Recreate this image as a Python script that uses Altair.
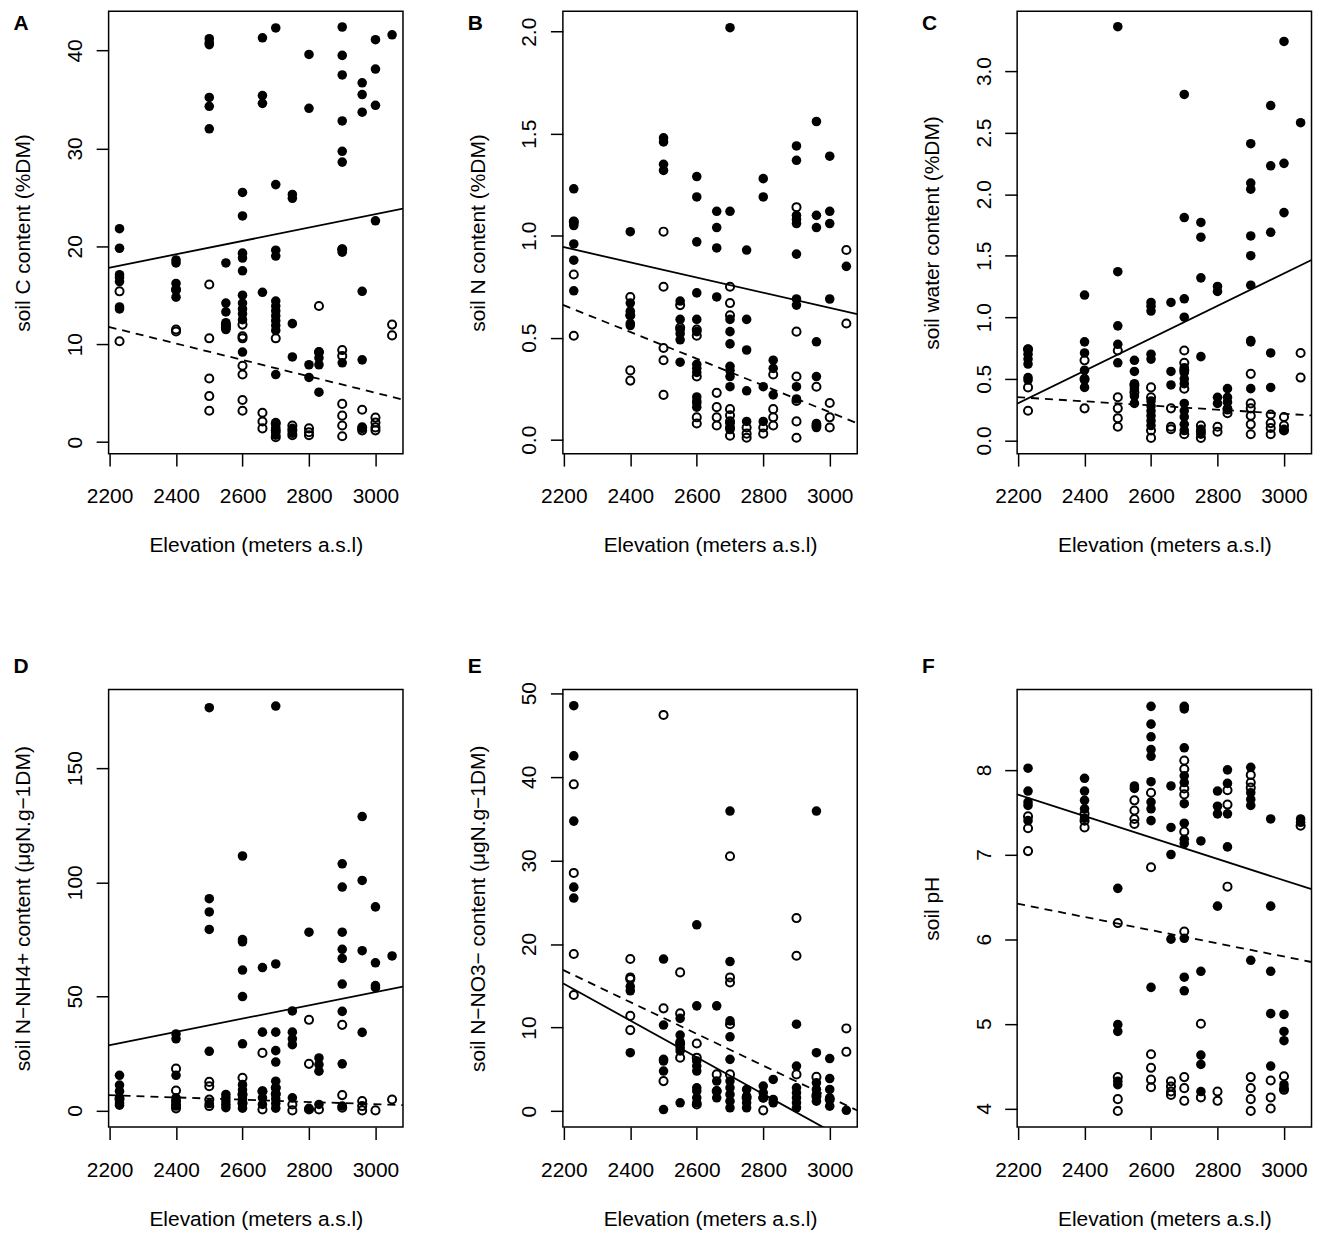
import altair as alt
import pandas as pd

FONT = "Liberation Sans"
W = 295.5
H_TOP = 444
H_BOT = 439.3

X_DOMAIN = [2197.2, 3082.8]
X_EDGES = [2197.2, 3082.8]
X_TICKS = [2200, 2400, 2600, 2800, 3000]
X_TITLE = "Elevation (meters a.s.l)"

# ---------------- Panel A : soil C content ----------------
A_filled = {
    2230: [21.8, 19.8, 17.1, 16.8, 16.4, 13.8, 13.6],
    2400: [18.6, 18.3, 16.2, 15.5, 14.8],
    2500: [41.2, 40.8, 40.6, 35.2, 34.3, 32.0],
    2550: [18.3, 14.2, 13.3, 12.2, 11.9, 11.5],
    2600: [25.5, 23.1, 19.3, 18.8, 17.5, 15.0, 14.2, 13.6, 13.1, 12.5, 9.2],
    2660: [41.3, 35.4, 34.6, 15.3],
    2700: [42.3, 26.3, 19.6, 19.0, 14.4, 13.9, 13.4, 12.9, 12.4, 11.9, 11.4, 6.9, 2.0, 1.5, 1.0, 0.7],
    2750: [25.3, 24.9, 12.1, 8.7, 1.4, 0.9],
    2800: [39.6, 34.1, 7.9, 6.6],
    2830: [9.2, 8.6, 7.9, 5.1],
    2900: [42.4, 39.5, 37.5, 32.8, 29.7, 28.6, 19.7, 19.4, 8.1],
    2960: [36.7, 35.5, 33.7, 15.4, 8.4, 1.4],
    3000: [41.1, 38.1, 34.4, 22.6],
    3050: [41.6],
}
A_open = {
    2230: [15.4, 10.3],
    2400: [15.6, 11.5, 11.3],
    2500: [16.1, 10.6, 6.5, 4.7, 3.2],
    2550: [12.0, 11.7],
    2600: [12.0, 10.8, 10.6, 7.8, 6.9, 4.3, 3.2],
    2660: [3.0, 2.1, 1.4],
    2700: [10.6, 1.9, 1.2, 0.5],
    2750: [1.7, 1.2, 0.7],
    2800: [1.4, 1.0, 0.7],
    2830: [13.9, 9.2],
    2900: [19.7, 9.4, 8.8, 3.9, 2.7, 1.7, 0.6],
    2960: [3.3, 1.5, 1.2],
    3000: [2.5, 2.0, 1.5, 1.2],
    3050: [12.0, 10.9],
}
A_solid = [17.8, 23.84]
A_dashed = [11.77, 4.34]

# ---------------- Panel B : soil N content ----------------
B_filled = {
    2230: [1.23, 1.07, 1.06, 1.05, 0.96, 0.88, 0.73],
    2400: [1.02, 0.67, 0.63, 0.61, 0.57, 0.56],
    2500: [1.48, 1.46, 1.35, 1.32],
    2550: [0.68, 0.59, 0.54, 0.52, 0.49, 0.38],
    2600: [1.29, 1.19, 0.97, 0.72, 0.59, 0.53, 0.37, 0.35, 0.33, 0.21, 0.19, 0.18, 0.16],
    2660: [1.12, 1.04, 0.94, 0.70],
    2700: [2.02, 1.12, 0.59, 0.53, 0.47, 0.36, 0.34, 0.31, 0.26, 0.08, 0.05],
    2750: [0.93, 0.59, 0.44, 0.24, 0.09],
    2800: [1.28, 1.19, 0.26, 0.09],
    2830: [0.39, 0.35, 0.22],
    2900: [1.44, 1.37, 1.10, 1.08, 1.06, 0.91, 0.69, 0.66, 0.26, 0.20],
    2960: [1.56, 1.10, 1.04, 0.48, 0.31, 0.08, 0.06],
    3000: [1.39, 1.12, 1.06, 0.69],
    3050: [0.85],
}
B_open = {
    2230: [1.07, 0.81, 0.51],
    2400: [0.70, 0.61, 0.34, 0.29],
    2500: [1.02, 0.75, 0.45, 0.39, 0.22],
    2550: [0.66, 0.55],
    2600: [0.54, 0.51, 0.31, 0.11, 0.08],
    2660: [0.23, 0.16, 0.11, 0.07],
    2700: [0.75, 0.67, 0.61, 0.15, 0.12, 0.09, 0.06, 0.02],
    2750: [0.06, 0.03, 0.01],
    2800: [0.06, 0.03],
    2830: [0.32, 0.15, 0.11, 0.07],
    2900: [1.14, 0.53, 0.31, 0.19, 0.09, 0.01],
    2960: [0.26, 0.07],
    3000: [0.18, 0.11, 0.06],
    3050: [0.93, 0.57],
}
B_solid = [0.945, 0.616]
B_dashed = [0.661, 0.081]

# ---------------- Panel C : soil water content ----------------
C_filled = {
    2230: [0.74, 0.70, 0.66, 0.62, 0.51, 0.49],
    2400: [1.18, 0.80, 0.71, 0.57, 0.49, 0.43],
    2500: [3.36, 1.37, 0.93, 0.78, 0.63],
    2550: [0.65, 0.56, 0.46, 0.42, 0.36, 0.30],
    2600: [1.12, 1.09, 1.05, 0.70, 0.66, 0.32, 0.28, 0.24, 0.20, 0.16, 0.12],
    2660: [1.12, 0.56, 0.45],
    2700: [2.81, 1.81, 1.15, 1.00, 0.59, 0.55, 0.50, 0.46, 0.30, 0.24, 0.19, 0.13, 0.08],
    2750: [1.77, 1.65, 1.32, 0.68, 0.09, 0.05],
    2800: [1.25, 1.21, 0.35, 0.30],
    2830: [0.42, 0.35, 0.31, 0.26],
    2900: [2.41, 2.09, 2.04, 1.66, 1.50, 1.26, 0.81, 0.80, 0.42],
    2960: [2.72, 2.23, 1.69, 0.71, 0.43],
    3000: [3.24, 2.25, 1.85, 0.09],
    3050: [2.58],
}
C_open = {
    2230: [0.74, 0.43, 0.24],
    2400: [0.65, 0.50, 0.26],
    2500: [0.73, 0.35, 0.26, 0.18, 0.11],
    2550: [0.45, 0.39],
    2600: [0.43, 0.35, 0.08, 0.02],
    2660: [0.26, 0.11, 0.09],
    2700: [0.73, 0.63, 0.57, 0.42, 0.05],
    2750: [0.12, 0.07, 0.02],
    2800: [0.11, 0.07],
    2830: [0.25, 0.22],
    2900: [0.54, 0.30, 0.26, 0.20, 0.13, 0.05],
    2960: [0.21, 0.14, 0.10, 0.05],
    3000: [0.19, 0.12, 0.08],
    3050: [0.71, 0.51],
}
C_solid = [0.297, 1.465]
C_dashed = [0.351, 0.202]

# ---------------- Panel D : soil N-NH4+ content ----------------
D_filled = {
    2230: [15.4, 11.1, 8.4, 5.5, 3.3, 2.3],
    2400: [33.5, 31.4, 15.4, 5.5, 1.9],
    2500: [176.5, 92.8, 87.0, 79.3, 25.9, 3.0],
    2550: [7.0, 5.5, 4.1, 2.6, 1.2],
    2600: [111.5, 74.9, 73.9, 61.5, 49.9, 29.2, 11.3, 9.0, 7.0, 5.0, 3.0, 1.0],
    2660: [62.6, 34.3, 8.4, 5.5, 2.6],
    2700: [177.2, 64.2, 34.3, 26.2, 21.2, 12.8, 9.9, 7.0, 5.0, 3.0, 1.0],
    2750: [43.6, 34.3, 31.4, 28.8, 5.5],
    2800: [78.1, 0.9],
    2830: [23.0, 20.1, 17.2, 2.6],
    2900: [108.1, 97.9, 78.1, 70.6, 66.6, 55.4, 43.4, 20.4, 1.9],
    2960: [128.8, 100.8, 70.0, 34.2],
    3000: [89.2, 64.7, 54.7, 53.8],
    3050: [67.7],
}
D_open = {
    2230: [5.0],
    2400: [18.3, 8.7, 4.1, 2.6, 0.9],
    2500: [12.5, 10.6, 4.8, 1.9],
    2600: [14.3, 7.0, 3.3],
    2660: [25.2, 8.4, 0.4],
    2700: [9.9, 7.3],
    2750: [2.6, 0.0],
    2800: [39.7, 20.4, 0.4],
    2830: [0.4],
    2900: [37.5, 6.7, 1.2],
    2960: [4.1, 1.9, 0.0],
    3000: [0.0],
    3050: [4.8],
}
D_solid = [28.5, 54.3]
D_dashed = [6.7, 2.3]

# ---------------- Panel E : soil N-NO3- content ----------------
E_filled = {
    2230: [48.5, 42.5, 34.7, 26.8, 25.5],
    2400: [14.9, 14.4, 7.0],
    2500: [18.2, 10.3, 6.2, 6.0, 4.8, 0.2],
    2550: [11.1, 9.1, 8.3, 7.6, 7.2, 1.0],
    2600: [22.3, 12.6, 6.0, 5.4, 4.8, 2.8, 2.4, 1.6, 1.0],
    2660: [12.6, 3.6, 2.4, 1.6],
    2700: [35.9, 17.9, 10.8, 8.9, 6.2, 3.6, 2.8, 2.0, 1.2, 0.4],
    2750: [2.6, 1.8, 1.0, 0.4],
    2800: [3.0, 2.2, 1.6],
    2830: [3.8, 1.4, 1.0],
    2900: [10.4, 5.4, 2.8, 2.2, 1.6, 1.0, 0.4],
    2960: [35.9, 7.0, 3.4, 2.6, 2.0, 1.2],
    3000: [6.3, 3.9, 2.6, 1.6, 0.6],
    3050: [0.1],
}
E_open = {
    2230: [39.1, 28.5, 18.8, 13.9],
    2400: [18.2, 16.0, 15.8, 11.4, 9.7],
    2500: [47.4, 12.3, 3.6],
    2550: [16.6, 11.7, 8.1, 6.4],
    2600: [8.1, 6.4, 0.8],
    2660: [4.4, 2.4],
    2700: [30.5, 16.0, 15.4, 10.4, 4.4],
    2750: [1.6],
    2800: [1.6, 0.1],
    2900: [23.1, 18.6, 4.4],
    2960: [4.1, 1.8],
    3000: [1.4],
    3050: [9.9, 7.1],
}
E_solid = [15.3, -4.17]
E_dashed = [16.9, 0.08]

# ---------------- Panel F : soil pH ----------------
F_filled = {
    2230: [8.02, 7.75, 7.62, 7.58, 7.40],
    2400: [7.90, 7.75, 7.64, 7.54, 7.43],
    2500: [6.60, 4.99, 4.91, 4.32, 4.28],
    2550: [7.81, 7.78],
    2600: [8.75, 8.54, 8.39, 8.24, 8.16, 7.86, 7.62, 7.54, 7.40, 5.43],
    2660: [7.81, 7.32, 7.00, 6.00],
    2700: [8.75, 8.72, 8.26, 7.93, 7.85, 7.60, 7.37, 7.18, 7.13, 6.01, 5.55, 5.39],
    2750: [7.16, 5.62, 4.63, 4.52, 4.20],
    2800: [7.75, 7.57, 7.48, 6.39],
    2830: [8.00, 7.84, 7.48, 7.09],
    2900: [8.03, 7.73, 7.65, 7.58, 5.75],
    2960: [7.42, 6.39, 5.62, 5.12, 4.50],
    3000: [5.11, 4.91, 4.80, 4.28, 4.24],
    3050: [7.42, 7.38],
}
F_open = {
    2230: [7.45, 7.31, 7.04],
    2400: [7.48, 7.40, 7.32],
    2500: [6.19, 4.37, 4.11, 3.97],
    2550: [7.64, 7.52, 7.42, 7.36],
    2600: [7.73, 6.85, 4.64, 4.48, 4.34, 4.25],
    2660: [4.32, 4.26, 4.20, 4.16],
    2700: [8.11, 8.01, 7.78, 7.71, 7.27, 6.09, 4.37, 4.24, 4.09],
    2750: [5.00, 4.13],
    2800: [4.20, 4.09],
    2830: [7.76, 7.59, 6.62],
    2900: [7.94, 7.85, 7.79, 4.37, 4.24, 4.11, 3.97],
    2960: [4.33, 4.13, 4.00],
    3000: [4.38, 4.22],
    3050: [7.34],
}
F_solid = [7.71, 6.59]
F_dashed = [6.42, 5.73]


def to_df(groups):
    rows = []
    for elev, vals in groups.items():
        for v in vals:
            rows.append({"elev": elev, "value": v})
    return pd.DataFrame(rows)


def panel(letter, ylabel, filled, opened, solid, dashed, ydom, yticks, yfmt, h, letter_dy):
    xenc = alt.X(
        "elev:Q",
        scale=alt.Scale(domain=X_DOMAIN, nice=False, zero=False),
        axis=alt.Axis(
            values=X_TICKS, format="d", title=X_TITLE, grid=False, domain=False,
            tickSize=12.5, tickWidth=1.5, tickColor="black",
            labelFont=FONT, labelFontSize=21, labelColor="black",
            labelPadding=20, labelBaseline="top", labelAlign="center",
            labelFlush=False, labelOverlap=False,
            titleFont=FONT, titleFontSize=21, titleFontWeight="normal",
            titleColor="black", titleY=98.4, titleBaseline="alphabetic",
        ),
    )
    yenc = alt.Y(
        "value:Q",
        scale=alt.Scale(domain=ydom, nice=False, zero=False),
        axis=alt.Axis(
            values=yticks, format=yfmt, title=ylabel, grid=False, domain=False,
            tickSize=12.5, tickWidth=1.5, tickColor="black",
            labelFont=FONT, labelFontSize=21, labelColor="black",
            labelAngle=270, labelAlign="center", labelBaseline="alphabetic",
            labelPadding=14.5, labelFlush=False, labelOverlap=False,
            titleFont=FONT, titleFontSize=21, titleFontWeight="normal",
            titleColor="black", titleAngle=270, titleX=-79, titleY=h / 2,
            titleAlign="center", titleBaseline="alphabetic",
        ),
    )
    f_pts = alt.Chart(to_df(filled)).mark_point(
        shape="circle", filled=True, size=92, color="black", opacity=1
    ).encode(x=xenc, y=yenc)
    o_pts = alt.Chart(to_df(opened)).mark_point(
        shape="circle", filled=False, size=66, strokeWidth=2, color="black", opacity=1
    ).encode(x=xenc, y=yenc)
    s_line = alt.Chart(pd.DataFrame({"elev": X_EDGES, "value": solid})).mark_line(
        color="black", strokeWidth=1.8, clip=True
    ).encode(x=xenc, y=yenc)
    d_line = alt.Chart(pd.DataFrame({"elev": X_EDGES, "value": dashed})).mark_line(
        color="black", strokeWidth=1.8, strokeDash=[8, 6], clip=True
    ).encode(x=xenc, y=yenc)
    # panel letter anchored at the top-left corner of the plot area
    tag = alt.Chart(pd.DataFrame({"elev": [X_DOMAIN[0]], "value": [ydom[1]], "tag": [letter]})).mark_text(
        align="left", baseline="alphabetic", dx=-95.6, dy=letter_dy,
        font=FONT, fontSize=21, fontWeight="bold", color="black", clip=False,
    ).encode(x=xenc, y=yenc, text="tag:N")
    return alt.layer(f_pts, o_pts, s_line, d_line, tag).properties(width=W, height=h)


pA = panel("A", "soil C content (%DM)", A_filled, A_open, A_solid, A_dashed,
           [-1.18, 44.0], [0, 10, 20, 30, 40], "d", H_TOP, 19)
pB = panel("B", "soil N content (%DM)", B_filled, B_open, B_solid, B_dashed,
           [-0.068, 2.10], [0.0, 0.5, 1.0, 1.5, 2.0], ".1f", H_TOP, 19)
pC = panel("C", "soil water content (%DM)", C_filled, C_open, C_solid, C_dashed,
           [-0.108, 3.485], [0.0, 0.5, 1.0, 1.5, 2.0, 2.5, 3.0], ".1f", H_TOP, 19)
pD = panel("D", "soil N\u2212NH4+ content (\u03bcgN.g\u22121DM)", D_filled, D_open, D_solid, D_dashed,
           [-7.3, 184.5], [0, 50, 100, 150], "d", H_BOT, -16.7)
pE = panel("E", "soil N\u2212NO3\u2212 content (\u03bcgN.g\u22121DM)", E_filled, E_open, E_solid, E_dashed,
           [-1.9, 50.45], [0, 10, 20, 30, 40, 50], "d", H_BOT, -16.7)
pF = panel("F", "soil pH", F_filled, F_open, F_solid, F_dashed,
           [3.78, 8.95], [4, 5, 6, 7, 8], "d", H_BOT, -16.7)

chart = alt.concat(
    pA, pB, pC, pD, pE, pF,
    columns=3,
    spacing={"row": 236.7, "column": 160},
    bounds="flush",
).properties(
    padding={"left": 4, "top": 0, "right": 2, "bottom": 2},
    background="white",
).configure_view(
    stroke="black", strokeWidth=1.5
)

chart.save("out.html", embed_options={"renderer": "svg", "actions": False})
